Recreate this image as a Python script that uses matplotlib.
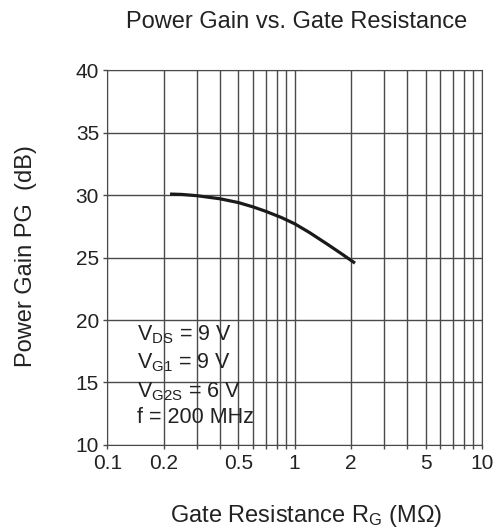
import matplotlib.pyplot as plt
from matplotlib.patches import Rectangle
from matplotlib.ticker import FixedLocator, NullFormatter

plt.rcParams['font.family'] = ['Liberation Sans', 'DejaVu Sans']
plt.rcParams['mathtext.fontset'] = 'custom'
plt.rcParams['mathtext.rm'] = 'Liberation Sans'
plt.rcParams['mathtext.it'] = 'Liberation Sans'

# curve
rg = [0.216, 0.25, 0.3, 0.4, 0.5, 0.6, 0.7, 0.85, 1.0, 1.2, 1.5, 1.8, 2.1]
pg = [30.08, 30.05, 29.95, 29.7, 29.4, 29.05, 28.7, 28.2, 27.7, 27.0,
      26.05, 25.25, 24.55]

xticks = [0.1, 0.2, 0.5, 1, 2, 5, 10]
xtick_labels = ['0.1', '0.2', '0.5', '1', '2', '5', '10']
yticks = [10, 15, 20, 25, 30, 35, 40]
conditions = [r'V$_{\mathrm{DS}}$ = 9 V', r'V$_{\mathrm{G1}}$ = 9 V',
              r'V$_{\mathrm{G2S}}$ = 6 V', 'f = 200 MHz']
cond_y = [0.28, 0.205, 0.128, 0.059]

txt = '#222222'
gridc = '#4a4a4a'

fig = plt.figure(figsize=(5.02, 5.31), dpi=100)
ax = fig.add_axes([0.214, 0.162, 0.746, 0.706])

ax.plot(rg, pg, color='#1a1a1a', lw=2.3, zorder=3, solid_capstyle='butt')

ax.set_xscale('log')
ax.set_xlim(0.1, 10)
ax.set_ylim(10, 40)
ax.xaxis.set_major_locator(FixedLocator(xticks))
ax.set_xticklabels(xtick_labels)
minor = [m * d for d in (0.1, 1) for m in range(2, 10)]
ax.xaxis.set_minor_locator(FixedLocator(minor))
ax.xaxis.set_minor_formatter(NullFormatter())
ax.set_yticks(yticks)

ax.grid(True, which='both', color=gridc, lw=1.0)
ax.tick_params(which='both', length=3, width=1, color=gridc)
ax.tick_params(axis='x', which='major', labelsize=15, pad=3.5, labelcolor=txt)
ax.tick_params(axis='y', which='major', labelsize=15, pad=3, labelcolor=txt)
for s in ax.spines.values():
    s.set_color(gridc)

# white patch behind the first three condition lines
ax.add_patch(Rectangle((0.068, 0.107), 0.327, 0.223, transform=ax.transAxes,
                       facecolor='white', edgecolor='none', zorder=1))
for t, yy in zip(conditions, cond_y):
    ax.text(0.079, yy, t, transform=ax.transAxes, fontsize=15.5,
            va='baseline', ha='left', color=txt, zorder=4)

fig.text(0.59, 0.947, 'Power Gain vs. Gate Resistance', ha='center',
         va='baseline', fontsize=17, color=txt)
fig.text(0.051, 0.518, 'Power Gain PG  (dB)', rotation=90, ha='center',
         va='center', fontsize=17, color=txt)
fig.text(0.609, 0.017, r'Gate Resistance R$_{\mathrm{G}}$ (M$\Omega$)',
         ha='center', va='baseline', fontsize=17, color=txt)

fig.savefig('out.png', dpi=100)
